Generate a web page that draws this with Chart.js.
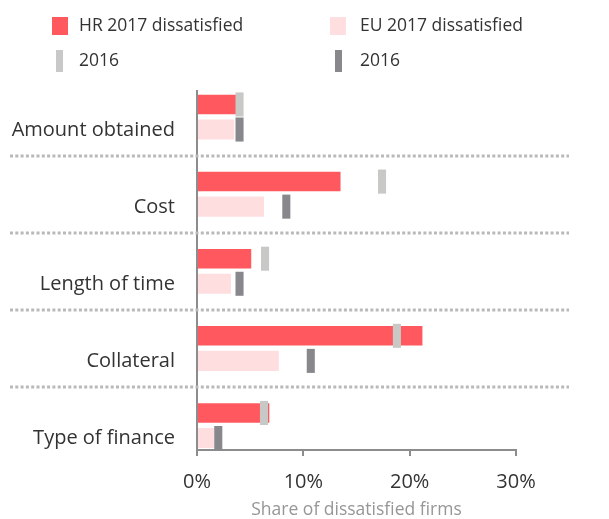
<!DOCTYPE html>
<html>
<head>
<meta charset="utf-8">
<script src="https://cdn.jsdelivr.net/npm/chart.js@4.4.1/dist/chart.umd.min.js"></script>
<style>
  html, body { margin: 0; padding: 0; background: #fff; }
  #wrap { width: 609px; height: 519px; position: relative; }
</style>
</head>
<body>
<div id="wrap"><canvas id="chart"></canvas></div>
<script>
const categories = ['Amount obtained', 'Cost', 'Length of time', 'Collateral', 'Type of finance'];
const hr2017 = [3.7, 13.5, 5.1, 21.2, 6.8];
const eu2017 = [3.5, 6.3, 3.2, 7.7, 1.6];
const hr2016 = [4.0, 17.4, 6.4, 18.8, 6.3];
const eu2016 = [4.0, 8.4, 4.0, 10.7, 2.0];
const xTicks = [0, 10, 20, 30];
const seriesLabels = ['HR 2017 dissatisfied', 'EU 2017 dissatisfied', '2016', '2016'];

const RED = 'rgb(255, 88, 94)';
const PINK = 'rgb(255, 222, 224)';
const LIGHTGREY = 'rgb(200, 200, 198)';
const DARKGREY = 'rgb(136, 136, 140)';
const AXIS = 'rgb(140, 140, 140)';
const MARK_HALF = 0.38; // half width of the 2016 marker, in % units

Chart.defaults.font.family = "'Open Sans', sans-serif";
Chart.defaults.color = '#333';

const bars = (vals) => vals.map((v, i) => ({ x: v, y: i }));
const marks = (vals) => vals.map((v, i) => ({ x: [v - MARK_HALF, v + MARK_HALF], y: i }));

// dotted lines between the groups
const separators = {
  id: 'separators',
  beforeDatasetsDraw(chart) {
    const ctx = chart.ctx;
    const y = chart.scales.y;
    ctx.save();
    ctx.strokeStyle = 'rgb(185, 185, 185)';
    ctx.lineWidth = 3;
    ctx.setLineDash([3, 2.3]);
    for (let i = 0; i < categories.length - 1; i++) {
      const py = Math.round(y.getPixelForValue(i + 0.5));
      ctx.beginPath();
      ctx.moveTo(10, py);
      ctx.lineTo(569, py);
      ctx.stroke();
    }
    ctx.restore();
  }
};

// two column legend at the top
const legendPos = [
  { bx: 52, tx: 79, y: 26 },
  { bx: 330, tx: 360, y: 26 },
  { bx: 56, tx: 79, y: 61 },
  { bx: 335, tx: 360, y: 61 }
];
const topLegend = {
  id: 'topLegend',
  afterDraw(chart) {
    const ctx = chart.ctx;
    ctx.save();
    chart.data.datasets.forEach((ds, i) => {
      const p = legendPos[i];
      ctx.fillStyle = ds.backgroundColor;
      if (ds.isMarker) ctx.fillRect(p.bx, p.y - 11, 7, 22);
      else ctx.fillRect(p.bx, p.y - 9, 16, 18);
      ctx.fillStyle = '#333';
      ctx.font = "17.5px 'Open Sans'";
      ctx.textBaseline = 'middle';
      ctx.fillText(ds.label, p.tx, p.y);
    });
    ctx.restore();
  }
};

new Chart(document.getElementById('chart'), {
  type: 'bar',
  data: {
    datasets: [
      { label: seriesLabels[0], data: bars(hr2017), backgroundColor: RED, stack: 'hr', order: 2,
        barPercentage: 0.78, categoryPercentage: 0.65 },
      { label: seriesLabels[1], data: bars(eu2017), backgroundColor: PINK, stack: 'eu', order: 2,
        barPercentage: 0.8, categoryPercentage: 0.65 },
      { label: seriesLabels[2], data: marks(hr2016), backgroundColor: LIGHTGREY, stack: 'hr', order: 1,
        barPercentage: 0.96, categoryPercentage: 0.65, isMarker: true },
      { label: seriesLabels[3], data: marks(eu2016), backgroundColor: DARKGREY, stack: 'eu', order: 1,
        barPercentage: 0.96, categoryPercentage: 0.65, isMarker: true }
    ]
  },
  options: {
    indexAxis: 'y',
    responsive: true,
    maintainAspectRatio: false,
    animation: false,
    layout: { padding: { top: 91, right: 93, left: 0, bottom: 0 } },
    plugins: {
      legend: { display: false },
      tooltip: { enabled: false }
    },
    scales: {
      x: {
        type: 'linear',
        min: 0,
        max: 30,
        stacked: false,
        afterBuildTicks: (s) => { s.ticks = xTicks.map(v => ({ value: v })); },
        afterFit: (s) => { s.height = 69; },
        ticks: {
          callback: (v) => v + '%',
          font: { size: 20 },
          color: '#333',
          padding: 14
        },
        grid: { drawOnChartArea: false, drawTicks: true, tickLength: 6, color: AXIS, lineWidth: 2 },
        border: { display: true, color: AXIS, width: 2 },
        title: {
          display: true,
          text: 'Share of dissatisfied firms',
          color: 'rgb(150, 150, 150)',
          font: { size: 17.5, lineHeight: 1 },
          padding: { top: 0, bottom: 0 }
        }
      },
      y: {
        type: 'linear',
        reverse: true,
        offset: false,
        min: -0.337,
        max: 4.318,
        afterBuildTicks: (s) => { s.ticks = categories.map((c, i) => ({ value: i })); },
        afterFit: (s) => { s.width = 197; },
        ticks: {
          callback: (v) => categories[v],
          font: { size: 20 },
          color: '#333',
          padding: 22,
          labelOffset: 13
        },
        grid: { display: false, drawTicks: false, offset: false },
        border: { display: true, color: AXIS, width: 2 }
      }
    }
  },
  plugins: [separators, topLegend]
});
</script>
</body>
</html>
